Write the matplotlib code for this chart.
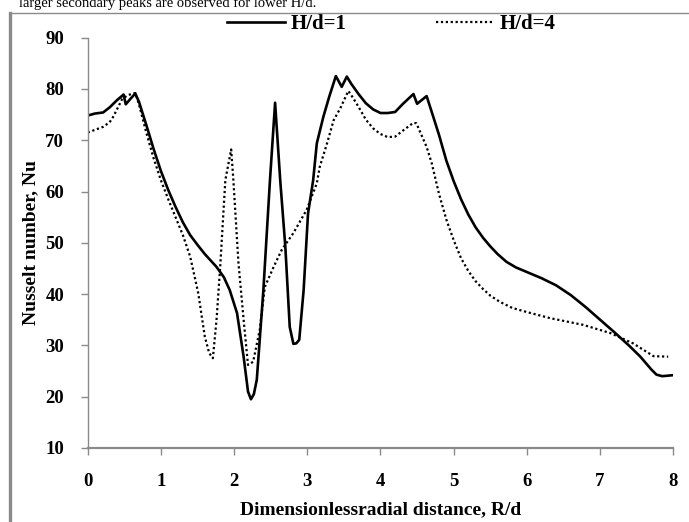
import matplotlib
matplotlib.use("Agg")
import matplotlib.pyplot as plt
from matplotlib.lines import Line2D

# ---- data ----
r_h1 = [0.00, 0.10, 0.21, 0.30, 0.40, 0.49, 0.52, 0.58, 0.65, 0.70, 0.80, 0.90,
        1.00, 1.10, 1.20, 1.30, 1.40, 1.50, 1.60, 1.76, 1.86, 1.94, 2.04, 2.13,
        2.19, 2.23, 2.27, 2.31, 2.40, 2.49, 2.56, 2.63, 2.70, 2.76, 2.81, 2.85,
        2.89, 2.95, 3.01, 3.08, 3.13, 3.22, 3.30, 3.39, 3.47, 3.54, 3.60, 3.70,
        3.80, 3.90, 4.00, 4.10, 4.20, 4.30, 4.45, 4.50, 4.63, 4.70, 4.80, 4.90,
        5.00, 5.10, 5.20, 5.30, 5.40, 5.50, 5.60, 5.72, 5.85, 6.00, 6.20, 6.40,
        6.60, 6.80, 7.00, 7.20, 7.40, 7.55, 7.70, 7.77, 7.85, 8.00]
nu_h1 = [74.8, 75.2, 75.4, 76.4, 77.8, 78.9, 77.0, 78.0, 79.1, 77.5, 73.0, 68.3,
         64.0, 60.3, 57.0, 54.0, 51.5, 49.6, 47.8, 45.3, 43.3, 40.8, 36.3, 27.8,
         21.0, 19.5, 20.5, 23.3, 40.8, 62.2, 77.3, 62.2, 49.2, 33.6, 30.3, 30.4,
         31.1, 40.8, 55.7, 62.2, 69.4, 74.6, 78.5, 82.5, 80.4, 82.4, 81.0, 79.0,
         77.2, 76.0, 75.3, 75.3, 75.5, 77.0, 79.0, 77.1, 78.6, 75.5, 71.0, 66.0,
         62.0, 58.5, 55.5, 53.0, 51.0, 49.3, 47.8, 46.3, 45.2, 44.3, 43.1, 41.7,
         39.8, 37.5, 35.0, 32.5, 29.9, 27.8, 25.3, 24.3, 24.0, 24.2]

r_h4 = [0.00, 0.21, 0.30, 0.35, 0.47, 0.55, 0.65, 0.70, 0.80, 0.90, 1.00, 1.10,
        1.20, 1.30, 1.40, 1.51, 1.60, 1.66, 1.71, 1.76, 1.81, 1.88, 1.96, 1.99,
        2.06, 2.13, 2.19, 2.26, 2.35, 2.42, 2.54, 2.65, 2.81, 2.99, 3.13, 3.17,
        3.27, 3.36, 3.45, 3.56, 3.60, 3.70, 3.80, 3.90, 4.00, 4.10, 4.20, 4.30,
        4.45, 4.49, 4.63, 4.70, 4.80, 4.90, 5.00, 5.10, 5.20, 5.30, 5.40, 5.50,
        5.63, 5.80, 6.00, 6.32, 6.77, 7.14, 7.45, 7.73, 7.93]
nu_h4 = [71.5, 72.6, 73.5, 74.6, 78.0, 78.8, 79.2, 77.0, 71.5, 66.5, 62.2, 58.5,
         55.0, 51.5, 47.3, 40.2, 31.7, 28.5, 27.5, 35.0, 45.3, 62.2, 68.2, 62.2,
         46.0, 35.0, 26.2, 26.8, 33.0, 41.4, 45.3, 48.6, 51.9, 56.4, 61.6, 64.8,
         69.4, 73.9, 76.2, 79.6, 78.8, 76.5, 74.0, 72.3, 71.2, 70.6, 70.7, 71.8,
         73.4, 73.3, 68.7, 65.5, 59.5, 54.5, 50.5, 47.0, 44.5, 42.5, 41.0, 39.7,
         38.5, 37.3, 36.5, 35.3, 34.0, 32.4, 30.4, 27.9, 27.8]

x_ticks = [0, 1, 2, 3, 4, 5, 6, 7, 8]
y_ticks = [10, 20, 30, 40, 50, 60, 70, 80, 90]
series_labels = ["H/d=1", "H/d=4"]

SERIF = ["Liberation Serif", "DejaVu Serif"]
GRAY = "#8a8a8a"

fig = plt.figure(figsize=(6.89, 5.22), dpi=100)
W, H = 689, 522
ax = fig.add_axes([87.7 / W, 1 - 448 / H, (673.3 - 87.7) / W, (448 - 37.6) / H])

ax.plot(r_h1, nu_h1, color="black", lw=1.9, ls="-", label=series_labels[0])
ax.plot(r_h4, nu_h4, color="black", lw=1.6, ls=(0, (1, 1.2)), label=series_labels[1])

ax.set_xlim(0, 8)
ax.set_ylim(10, 90)
ax.set_xticks(x_ticks)
ax.set_yticks(y_ticks)
for sp in ["top", "right"]:
    ax.spines[sp].set_visible(False)
ax.spines["left"].set_color(GRAY)
ax.spines["left"].set_linewidth(1.0)
ax.spines["bottom"].set_color(GRAY)
ax.spines["bottom"].set_linewidth(1.6)
ax.tick_params(axis="both", direction="out", colors=GRAY, labelcolor="black",
               length=5, width=1.0)
ax.tick_params(axis="y", pad=12)
ax.tick_params(axis="x", pad=13)
for lab in ax.get_xticklabels() + ax.get_yticklabels():
    lab.set_fontfamily(SERIF)
    lab.set_fontsize(13.5)
    lab.set_fontweight("bold")

ax.set_xlabel("Dimensionlessradial distance, R/d", family=SERIF, fontsize=14,
              fontweight="bold", labelpad=8)
ax.set_ylabel("Nusselt number, Nu", family=SERIF, fontsize=14,
              fontweight="bold", labelpad=4)

leg = ax.legend(loc="upper center", bbox_to_anchor=(391 / W, 1 - 14 / H),
                bbox_transform=fig.transFigure, ncol=2, frameon=False,
                handlelength=2.8, handletextpad=0.25, columnspacing=4.3,
                prop={"family": SERIF, "size": 15, "weight": "bold"},
                borderaxespad=0, borderpad=0)

# page frame decoration (scanned figure border)
fig.add_artist(Line2D([9.5 / W, 9.5 / W], [0, 1 - 13 / H], transform=fig.transFigure,
                      color=GRAY, lw=2.4))
fig.add_artist(Line2D([9.5 / W, 1], [1 - 13 / H, 1 - 13 / H], transform=fig.transFigure,
                      color=GRAY, lw=1.0))

# clipped caption text above the figure
fig.text(19 / W, 1 - 7 / H, "larger secondary peaks are observed for lower H/d.",
         family=SERIF, fontsize=10.5, va="baseline", ha="left")

fig.savefig("out.png", dpi=100)
